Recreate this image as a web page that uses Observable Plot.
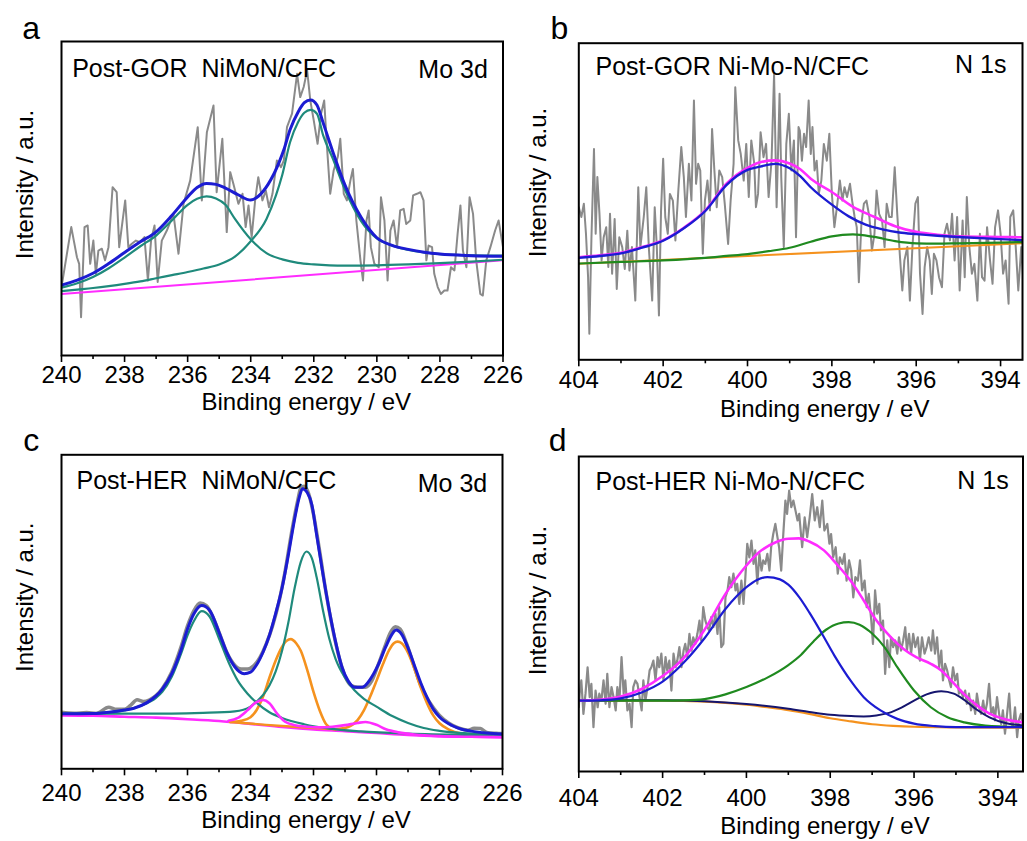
<!DOCTYPE html>
<html><head><meta charset="utf-8">
<script src="https://cdn.jsdelivr.net/npm/d3@7"></script>
<script src="https://cdn.jsdelivr.net/npm/@observablehq/plot@0.6"></script>
<style>
body{margin:0;background:#fff;}
#fig{position:relative;width:1027px;height:841px;overflow:hidden;font-family:Arial,"Liberation Sans",sans-serif;}
#fig svg{position:absolute;}
</style></head><body><div id="fig"></div>
<script>
// ---------- text ----------
const xTitle = "Binding energy / eV";
const yTitle = "Intensity / a.u.";
const moMajor = [240,238,236,234,232,230,228,226];
const moMinor = [239,237,235,233,231,229,227];
const nMajor = [404,402,400,398,396,394];
const nMinor = [403,401,399,397,395];

// ---------- panel a : Post-GOR NiMoN/CFC, Mo 3d ----------
const aRaw = [[240.00,21.8],[239.69,40.9],[239.51,31.3],[239.44,29.2],[239.38,12.2],[239.27,40.9],[239.17,41.4],[239.09,29.2],[238.99,36.6],[238.91,26.0],[238.83,33.4],[238.72,34.0],[238.62,30.3],[238.51,34.5],[238.38,53.6],[238.25,52.0],[238.17,34.5],[237.98,49.4],[237.88,34.5],[237.77,35.6],[237.64,36.6],[237.51,36.1],[237.37,37.7],[237.26,23.9],[237.16,36.6],[237.05,41.4],[236.95,23.4],[236.82,36.6],[236.66,39.8],[236.45,45.1],[236.29,32.4],[236.13,48.3],[235.92,55.7],[235.68,72.7],[235.55,49.4],[235.39,71.1],[235.18,79.6],[235.08,52.0],[234.90,69.0],[234.76,39.3],[234.65,58.4],[234.55,54.7],[234.39,48.3],[234.26,51.5],[234.16,40.9],[234.07,47.8],[233.97,37.7],[233.86,49.4],[233.76,56.8],[233.63,49.4],[233.52,52.5],[233.42,47.2],[233.31,51.5],[233.17,62.1],[233.04,60.0],[232.95,62.1],[232.85,72.7],[232.69,77.0],[232.53,89.7],[232.43,82.3],[232.32,85.5],[232.21,90.8],[232.11,81.2],[232.00,74.8],[231.88,67.4],[231.77,77.0],[231.67,81.2],[231.58,66.3],[231.48,51.5],[231.37,58.9],[231.24,63.2],[231.16,69.0],[231.05,51.5],[230.95,49.4],[230.84,55.7],[230.76,59.4],[230.65,43.0],[230.52,30.3],[230.44,23.9],[230.33,43.0],[230.26,46.2],[230.19,34.5],[230.08,29.2],[229.94,28.1],[229.87,50.4],[229.76,43.0],[229.66,23.9],[229.57,39.8],[229.47,43.0],[229.36,34.5],[229.26,46.2],[229.15,46.7],[229.07,41.9],[228.94,43.0],[228.85,51.0],[228.73,51.5],[228.62,52.0],[228.52,49.4],[228.43,30.3],[228.36,35.0],[228.25,34.5],[228.18,26.0],[228.07,21.8],[227.97,19.6],[227.86,20.7],[227.76,20.7],[227.65,28.1],[227.54,27.1],[227.44,38.7],[227.35,47.8],[227.27,33.4],[227.16,28.1],[227.06,50.4],[226.95,45.1],[226.85,30.3],[226.72,19.6],[226.64,19.1],[226.53,30.3],[226.40,34.5],[226.25,39.8],[226.14,43.0],[226.00,34.5]];
const aBase = [[240,19.6],[226,30.3]];
const aTeal1 = [[240,21.6],[239.5,23.0],[239,25.0],[238.5,27.8],[238,31.2],[237.5,34.8],[237,38.2],[236.5,43.0],[236,48.0],[235.7,49.9],[235.4,50.7],[235.1,50.0],[234.8,48.0],[234.5,43.5],[234,37.0],[233.5,32.6],[233,30.6],[232.5,29.5],[232,29.0],[231.5,28.7],[231,28.6],[230,28.7],[229,29.0],[228,29.4],[227,29.9],[226,30.5]];
const aTeal2 = [[240,20.5],[239.5,21.0],[239,21.5],[238.5,22.1],[238,22.8],[237.5,23.6],[237,24.6],[236.5,25.6],[236,26.6],[235.5,27.7],[235,29.0],[234.5,31.5],[234,36.4],[233.5,43.5],[233.2,51.0],[233,57.5],[232.75,68.0],[232.5,74.3],[232.3,77.3],[232.1,78.2],[231.9,77.0],[231.7,70.0],[231.4,62.8],[231,52.5],[230.5,42.8],[230,37.3],[229.5,35.0],[229,33.6],[228.5,32.8],[228,32.3],[227,31.9],[226,31.8]];
const aEnv = [[240,22.4],[239.5,24.0],[239,26.2],[238.5,29.3],[238,32.8],[237.5,36.2],[237,39.4],[236.5,44.6],[236,50.5],[235.7,53.5],[235.4,54.8],[235.1,54.5],[234.8,53.3],[234.4,51.2],[234.0,49.5],[233.75,50.8],[233.45,54.5],[233.1,61.5],[232.95,65.5],[232.75,72.0],[232.5,77.5],[232.3,80.5],[232.1,81.4],[231.9,79.8],[231.7,74.0],[231.4,65.0],[231,54.0],[230.5,44.0],[230,37.5],[229.5,35.0],[229,33.8],[228.5,32.9],[228,32.3],[227,31.8],[226,31.6]];

// ---------- panel b : Post-GOR Ni-Mo-N/CFC, N 1s ----------
const bRaw = [[404.00,48.2],[403.94,45.1],[403.88,49.3],[403.83,39.8],[403.78,26.1],[403.75,8.2],[403.70,38.7],[403.64,66.6],[403.60,39.8],[403.56,57.7],[403.51,46.1],[403.46,31.4],[403.41,38.7],[403.35,41.9],[403.30,29.3],[403.26,46.1],[403.21,27.2],[403.15,44.5],[403.10,22.4],[403.04,38.7],[402.97,35.6],[402.91,28.7],[402.85,40.8],[402.80,28.2],[402.74,35.6],[402.66,18.7],[402.59,54.5],[402.54,35.6],[402.46,45.1],[402.40,54.5],[402.34,35.6],[402.26,18.7],[402.20,48.2],[402.15,35.6],[402.10,14.0],[402.05,47.2],[402.00,63.5],[401.95,45.1],[401.89,39.8],[401.84,52.4],[401.77,50.3],[401.71,37.7],[401.64,53.5],[401.57,67.2],[401.51,57.7],[401.46,45.1],[401.39,61.9],[401.33,50.3],[401.27,81.9],[401.22,55.6],[401.17,61.9],[401.12,59.8],[401.06,33.5],[401.01,50.3],[400.95,56.6],[400.89,47.2],[400.84,72.9],[400.79,60.8],[400.73,48.2],[400.67,59.8],[400.60,57.7],[400.54,49.3],[400.46,36.6],[400.40,50.3],[400.33,61.9],[400.29,86.1],[400.22,69.3],[400.16,65.0],[400.09,56.6],[400.03,68.2],[399.97,51.4],[399.91,69.3],[399.84,61.9],[399.80,48.2],[399.75,52.4],[399.69,71.9],[399.62,64.0],[399.56,68.2],[399.50,51.4],[399.43,62.9],[399.37,90.3],[399.31,48.2],[399.24,84.0],[399.20,57.7],[399.14,35.6],[399.08,68.2],[399.02,77.7],[398.96,59.8],[398.90,69.3],[398.85,38.7],[398.79,73.5],[398.76,72.4],[398.71,62.9],[398.66,71.4],[398.61,67.2],[398.55,81.9],[398.50,65.0],[398.46,73.5],[398.41,59.8],[398.36,62.9],[398.31,52.4],[398.25,56.6],[398.19,68.2],[398.12,62.9],[398.06,71.4],[398.00,52.4],[397.94,41.9],[397.87,49.3],[397.81,56.6],[397.75,50.3],[397.70,54.5],[397.64,51.4],[397.57,55.6],[397.52,50.3],[397.46,45.1],[397.41,41.9],[397.36,24.5],[397.30,43.0],[397.24,49.3],[397.18,50.3],[397.11,45.1],[397.05,34.5],[396.99,39.8],[396.94,53.5],[396.88,46.1],[396.81,44.0],[396.75,35.6],[396.70,49.3],[396.64,45.1],[396.58,45.1],[396.51,60.8],[396.45,46.1],[396.39,33.5],[396.33,21.9],[396.28,31.4],[396.21,35.6],[396.15,18.7],[396.09,35.6],[396.02,49.3],[395.96,51.4],[395.91,27.2],[395.85,14.5],[395.80,29.3],[395.74,35.6],[395.68,31.4],[395.63,20.8],[395.58,33.5],[395.52,31.4],[395.46,26.1],[395.39,22.9],[395.33,39.8],[395.27,43.0],[395.20,37.7],[395.15,46.1],[395.09,31.4],[395.03,45.1],[394.97,21.9],[394.90,44.0],[394.85,26.1],[394.80,51.4],[394.74,35.6],[394.68,27.2],[394.62,30.3],[394.55,18.7],[394.49,39.8],[394.44,26.1],[394.38,25.0],[394.32,41.9],[394.25,31.4],[394.19,24.0],[394.13,41.9],[394.06,47.2],[394.00,39.8],[393.94,27.2],[393.88,31.4],[393.81,17.7],[393.77,45.1],[393.70,47.2],[393.64,35.6],[393.58,21.9],[393.51,35.6],[393.45,23.0]];
const bBase = [[404,30.3],[393.48,36.8]];
const bGreen = [[404,30.4],[403,30.9],[402,31.4],[401,32.2],[400.5,32.8],[400,33.4],[399.5,34.3],[399,35.4],[398.5,37.3],[398,39.0],[397.5,39.6],[397,38.8],[396.5,37.5],[396,36.8],[395.5,36.7],[395,36.8],[394,37.0],[393.48,37.2]];
const bBlue = [[404,32.2],[403.5,32.8],[403,33.6],[402.5,35.4],[402,37.6],[401.5,41.6],[401,47.0],[400.5,55.2],[400,60.0],[399.7,61.0],[399.35,61.9],[399,60.5],[398.75,58.0],[398.5,54.5],[398,49.0],[397.6,45.3],[397.2,42.7],[396.8,41.2],[396.4,40.2],[396,39.7],[395.5,39.2],[395,38.8],[394,38.1],[393.48,37.8]];
const bEnv = [[404,32.4],[403.5,33.0],[403,33.8],[402.5,35.6],[402,37.8],[401.5,41.8],[401,47.2],[400.5,55.6],[400,60.6],[399.7,62.4],[399.35,63.0],[399,62.0],[398.75,60.2],[398.5,57.2],[398,53.0],[397.5,48.3],[397,45.2],[396.5,42.2],[396,40.4],[395.5,39.5],[395,39.0],[394,38.8],[393.48,38.7]];

// ---------- panel c : Post-HER NiMoN/CFC, Mo 3d ----------
const cRaw = [[240,18.0],[239.6,17.7],[239.2,17.9],[238.9,17.6],[238.5,19.6],[238.3,19.0],[238.0,19.0],[237.8,20.3],[237.6,22.0],[237.4,21.4],[237.2,22.0],[237,23.3],[236.8,25.6],[236.5,30.8],[236.2,39.0],[236,45.5],[235.8,50.3],[235.6,52.8],[235.4,52.0],[235.2,48.5],[235,43.5],[234.75,37.0],[234.5,33.0],[234.3,31.8],[234.1,31.8],[233.9,32.8],[233.7,35.5],[233.5,39.8],[233.3,45.5],[233.1,53.0],[232.9,63.0],[232.7,75.0],[232.5,85.5],[232.4,89.5],[232.3,90.0],[232.15,87.5],[232.0,81.0],[231.8,69.0],[231.6,56.0],[231.4,45.0],[231.2,36.0],[231.0,29.5],[230.8,26.5],[230.6,26.0],[230.35,26.0],[230.15,28.0],[229.95,33.0],[229.75,38.5],[229.55,43.5],[229.4,45.2],[229.25,44.5],[229.05,40.0],[228.85,34.0],[228.65,28.0],[228.45,23.5],[228.2,19.5],[228.0,17.0],[227.7,14.5],[227.4,13.0],[227.1,12.3],[226.9,12.9],[226.7,12.8],[226.5,11.6],[226.2,11.3],[226,11.2]];
const cBase = [[240,17.0],[239,16.9],[238,16.6],[237,16.3],[236,15.8],[235,15.2],[234,14.3],[233,13.3],[232,12.5],[231,12.0],[230,11.4],[229,10.8],[228,10.4],[227,10.2],[226,10.1]];
const cTeal1 = [[240,17.5],[239,17.7],[238.5,18.0],[238,18.6],[237.5,20.0],[237,22.6],[236.8,24.5],[236.5,29.3],[236.2,36.8],[236,42.5],[235.8,47.0],[235.55,50.2],[235.3,48.5],[235.0,41.5],[234.7,34.0],[234.4,28.0],[234.1,24.0],[233.8,21.0],[233.4,18.0],[233,16.2],[232.3,14.2],[231.5,12.8],[230.5,11.9],[229,11.2],[227,10.8],[226,10.7]];
const cTeal2 = [[240,17.5],[238,17.6],[236.5,17.6],[235.5,17.8],[234.5,18.3],[234.0,19.8],[233.8,21.5],[233.6,23.5],[233.4,26.5],[233.2,31.0],[233.0,37.5],[232.8,46.5],[232.6,57.5],[232.4,66.0],[232.22,69.2],[232.05,67.0],[231.9,61.0],[231.7,50.5],[231.5,41.5],[231.3,35.0],[231.0,29.0],[230.7,25.0],[230.4,22.3],[230.0,19.8],[229.5,16.8],[229,14.6],[228.5,13.0],[228,12.1],[227,11.2],[226,10.8]];
const cOrange1 = [[234.65,14.9],[234.3,15.3],[234.0,16.4],[233.8,18.8],[233.6,23.0],[233.4,29.0],[233.2,34.5],[233.0,38.8],[232.85,40.8],[232.72,41.3],[232.55,40.0],[232.4,37.5],[232.2,31.5],[232.0,24.5],[231.8,18.5],[231.6,14.2],[231.4,12.8],[231.3,12.6]];
const cOrangeBase = [[234.65,14.9],[233.5,14.0],[232.5,13.3],[231.3,12.6]];
const cOrange2 = [[231.3,12.6],[230.9,13.3],[230.6,15.5],[230.4,18.6],[230.2,23.0],[230.0,28.0],[229.8,33.2],[229.6,37.8],[229.45,40.0],[229.33,40.5],[229.2,40.0],[229.0,37.0],[228.8,32.0],[228.6,26.0],[228.4,21.0],[228.2,17.0],[228.0,14.5],[227.7,12.5],[227.3,11.2],[227.0,10.8],[226.5,10.5],[226,10.3]];
const cMagenta = [[234.7,15.3],[234.4,16.2],[234.1,18.6],[233.85,21.0],[233.6,21.9],[233.4,20.9],[233.15,17.5],[232.9,15.0],[232.6,13.9],[232.2,13.4],[231.8,13.2],[231.4,13.4],[231.0,13.9],[230.6,14.6],[230.35,14.9],[230.0,14.0],[229.7,12.6],[229.3,11.6],[228.8,10.9],[228,10.4],[227,10.2],[226,10.1]];
const cEnv = [[240,17.5],[239,17.6],[238.5,18.0],[238,18.7],[237.7,19.3],[237.3,21.0],[237,23.2],[236.8,25.4],[236.5,30.3],[236.2,38.0],[236,44.5],[235.8,49.3],[235.55,52.0],[235.3,50.5],[235.0,43.5],[234.75,37.0],[234.5,32.5],[234.2,30.3],[234.0,30.8],[233.8,33.2],[233.6,37.2],[233.4,42.5],[233.2,49.5],[233.0,57.5],[232.8,68.0],[232.6,79.5],[232.45,86.5],[232.35,89.2],[232.2,88.0],[232.05,84.0],[231.9,74.5],[231.7,62.0],[231.5,50.5],[231.3,40.5],[231.1,32.5],[230.9,28.0],[230.7,26.0],[230.45,26.0],[230.2,28.5],[229.95,33.0],[229.7,39.0],[229.5,43.0],[229.38,44.2],[229.2,42.8],[229.0,38.5],[228.8,33.0],[228.6,27.5],[228.4,22.8],[228.2,19.0],[228.0,16.5],[227.6,13.8],[227.3,12.6],[227,12.0],[226.5,11.4],[226,11.1]];

// ---------- panel d : Post-HER Ni-Mo-N/CFC, N 1s ----------
const dRaw = [[404.00,20.4],[403.98,24.7],[403.94,28.9],[403.89,18.3],[403.84,24.7],[403.79,33.1],[403.74,23.6],[403.70,27.8],[403.65,14.1],[403.60,25.7],[403.55,20.4],[403.51,24.7],[403.46,22.5],[403.41,28.9],[403.36,21.5],[403.32,31.0],[403.27,20.4],[403.22,26.8],[403.17,23.6],[403.12,19.4],[403.08,26.8],[403.03,22.5],[402.98,36.3],[402.93,24.7],[402.89,28.9],[402.84,19.4],[402.79,21.5],[402.74,14.1],[402.70,26.8],[402.65,28.9],[402.60,27.8],[402.55,23.6],[402.50,19.4],[402.46,28.9],[402.41,22.5],[402.36,26.8],[402.31,32.1],[402.27,33.1],[402.22,35.2],[402.17,28.9],[402.12,36.3],[402.08,33.1],[402.03,37.4],[401.98,28.9],[401.93,36.3],[401.89,32.1],[401.84,35.2],[401.79,25.7],[401.74,37.4],[401.69,33.1],[401.65,35.2],[401.60,39.5],[401.55,33.1],[401.50,38.4],[401.46,40.5],[401.41,36.3],[401.36,43.7],[401.31,38.4],[401.27,42.6],[401.22,40.5],[401.17,43.7],[401.12,47.9],[401.08,41.6],[401.03,52.2],[400.98,47.9],[400.93,45.8],[400.89,44.8],[400.84,49.0],[400.79,45.8],[400.74,50.1],[400.69,43.7],[400.65,52.2],[400.60,39.5],[400.55,40.5],[400.50,55.3],[400.45,57.5],[400.41,61.7],[400.36,58.5],[400.31,62.8],[400.26,57.5],[400.22,59.6],[400.17,53.2],[400.12,60.6],[400.07,53.2],[400.03,60.6],[399.98,72.3],[399.93,68.0],[399.88,73.3],[399.83,65.9],[399.79,70.2],[399.74,59.6],[399.69,69.1],[399.64,63.8],[399.60,67.0],[399.55,65.9],[399.50,69.1],[399.45,63.8],[399.41,71.2],[399.36,75.4],[399.31,78.6],[399.26,74.4],[399.22,71.2],[399.17,63.8],[399.12,75.4],[399.07,86.0],[399.03,81.8],[398.98,89.2],[398.93,83.9],[398.88,86.0],[398.83,82.9],[398.78,79.7],[398.74,81.8],[398.72,78.6],[398.67,71.2],[398.61,80.7],[398.55,74.4],[398.49,80.7],[398.43,88.1],[398.37,79.7],[398.31,83.9],[398.25,77.6],[398.19,86.0],[398.14,76.5],[398.07,78.6],[398.02,72.3],[397.98,75.4],[397.93,68.0],[397.87,71.2],[397.82,62.8],[397.77,68.0],[397.71,65.9],[397.66,69.1],[397.61,60.6],[397.55,67.0],[397.50,63.8],[397.45,55.3],[397.40,61.7],[397.34,60.6],[397.29,67.0],[397.24,57.5],[397.18,60.6],[397.13,52.2],[397.08,56.4],[397.02,47.9],[396.98,40.5],[396.93,57.5],[396.88,50.1],[396.83,53.2],[396.79,44.8],[396.74,47.9],[396.69,31.0],[396.64,41.6],[396.59,33.1],[396.55,42.6],[396.50,39.5],[396.45,41.6],[396.40,37.4],[396.36,42.6],[396.31,38.4],[396.26,41.6],[396.21,45.8],[396.17,38.4],[396.12,43.7],[396.07,37.4],[396.02,43.7],[395.97,39.5],[395.91,42.6],[395.86,35.2],[395.81,42.6],[395.75,37.4],[395.70,39.5],[395.65,42.6],[395.59,38.4],[395.55,44.8],[395.50,37.4],[395.45,42.6],[395.40,33.1],[395.35,38.4],[395.31,28.9],[395.26,34.2],[395.21,32.1],[395.16,28.9],[395.12,26.8],[395.07,33.1],[395.02,28.9],[394.97,31.0],[394.93,24.7],[394.88,25.7],[394.83,23.6],[394.78,25.7],[394.74,21.5],[394.69,24.7],[394.64,19.4],[394.59,22.5],[394.54,18.3],[394.50,24.7],[394.45,20.4],[394.40,18.3],[394.35,22.5],[394.31,18.3],[394.26,21.5],[394.21,27.8],[394.16,18.3],[394.11,20.4],[394.07,16.2],[394.02,23.6],[393.97,18.3],[393.92,15.1],[393.88,19.4],[393.83,12.0],[393.78,18.3],[393.73,24.7],[393.69,16.2],[393.64,14.1],[393.59,20.4],[393.54,10.9],[393.50,16.2],[393.45,18.3],[393.40,14.1]];
const dBase = [[404,22.5],[402,22.5],[401.5,22.4],[401,22.2],[400.5,21.8],[400,21.2],[399.5,20.4],[399,19.5],[398.5,18.3],[398,16.9],[397.5,15.9],[397,15.0],[396.5,14.5],[396,14.2],[395,14.0],[393.4,13.9]];
const dNavy = [[404,22.6],[402,22.6],[401,22.3],[400,21.4],[399,19.9],[398.5,18.9],[398,18.0],[397.5,17.6],[397.2,17.5],[396.9,17.8],[396.6,18.6],[396.3,20.3],[396.0,22.5],[395.7,24.5],[395.35,25.5],[395.05,24.7],[394.8,22.7],[394.5,19.6],[394.2,17.2],[393.8,15.3],[393.4,14.6]];
const dBlue = [[404,22.5],[403.5,22.6],[403,23.2],[402.5,25.1],[402,28.5],[401.5,34.5],[401,42.3],[400.5,51.6],[400,58.5],[399.75,60.8],[399.5,61.7],[399.2,61.0],[399,59.3],[398.75,55.5],[398.5,50.5],[398.2,43.8],[397.9,36.8],[397.5,28.6],[397.2,23.6],[396.8,19.4],[396.4,16.7],[396,15.2],[395.5,14.4],[395,14.1],[393.4,14.1]];
const dGreen = [[404,22.5],[402,22.5],[401.5,22.6],[401,23.0],[400.5,24.5],[400,26.8],[399.5,29.8],[399,33.8],[398.7,37.0],[398.4,41.3],[398.1,45.0],[397.8,47.0],[397.56,47.4],[397.3,46.6],[397.0,43.8],[396.7,39.4],[396.4,33.1],[396.0,25.7],[395.6,20.4],[395.2,17.2],[394.8,15.6],[394.3,14.6],[393.4,14.1]];
const dEnv = [[404,22.5],[403.5,22.8],[403,23.8],[402.5,26.2],[402,30.3],[401.5,36.0],[401,45.0],[400.5,56.4],[400,65.4],[399.7,69.6],[399.3,72.8],[399,73.9],[398.75,74.0],[398.5,73.0],[398.15,70.2],[397.85,65.9],[397.5,60.3],[397.2,54.3],[396.9,48.0],[396.55,42.6],[396.25,38.9],[395.95,36.3],[395.6,34.2],[395.35,32.1],[395.1,28.7],[394.8,24.5],[394.5,21.0],[394.2,18.4],[393.85,16.7],[393.4,15.6]];

// ---------- colours ----------
const GREY = "#8a8a8a", BLUE = "#1c1cd2", TEAL = "#1f8a7c", MAGENTA = "#ff2cff",
      ORANGE = "#f5921e", GREEN = "#1f8a1f", NAVY = "#15156e";

const panels = [
  {left:0, top:0, width:513, height:420, margin:[41,10.5,65,61], domain:[240,226], major:moMajor, minor:moMinor,
   tickPad:3, titleDy:37, yDx:-36, yDy:-14, letter:"a", letterDx:-39.3, letterDy:-2.7,
   sample:"Post-GOR\u00a0 NiMoN/CFC", sampleDx:10.7, sampleDy:35, core:"Mo 3d", coreDx:-15.2, coreDy:36.3,
   series:[[aRaw,GREY,2,"linear"],[aBase,MAGENTA,2,"linear"],[aTeal1,TEAL,2.2],[aTeal2,TEAL,2.2],[aEnv,BLUE,3]]},
  {left:513, top:0, width:514, height:420, margin:[42.7,5,60.7,65.3], domain:[404,393.48], major:nMajor, minor:nMinor,
   tickPad:4, titleDy:40, yDx:-40, yDy:-19, letter:"b", letterDx:-28.3, letterDy:-4.4,
   sample:"Post-GOR Ni-Mo-N/CFC", sampleDx:16.7, sampleDy:31.3, core:"N 1s", coreDx:-16, coreDy:30,
   series:[[bRaw,GREY,2,"linear"],[bBase,ORANGE,2,"linear"],[bGreen,GREEN,2.2],[bEnv,MAGENTA,2.6],[bBlue,BLUE,2.4]]},
  {left:0, top:420, width:513, height:421, margin:[34.3,11,72.7,61], domain:[240,226], major:moMajor, minor:moMinor,
   tickPad:8, titleDy:42, yDx:-36, yDy:-14.6, letter:"c", letterDx:-38.3, letterDy:-4.3,
   sample:"Post-HER\u00a0 NiMoN/CFC", sampleDx:15, sampleDy:34, core:"Mo 3d", coreDx:-15.3, coreDy:36.7,
   series:[[cRaw,GREY,3.5],[cBase,MAGENTA,2.6],[cOrangeBase,ORANGE,2.4],[cOrange1,ORANGE,2.6],[cOrange2,ORANGE,2.6],[cTeal1,TEAL,2.2],[cTeal2,TEAL,2.2],[cMagenta,MAGENTA,2.6],[cEnv,BLUE,3]]},
  {left:513, top:420, width:514, height:421, margin:[36,4.5,70,65.3], domain:[404,393.4], major:nMajor, minor:nMinor,
   tickPad:10, titleDy:45, yDx:-40, yDy:-13.5, letter:"d", letterDx:-30, letterDy:-6,
   sample:"Post-HER Ni-Mo-N/CFC", sampleDx:16.7, sampleDy:33.3, core:"N 1s", coreDx:-14.3, coreDy:32,
   series:[[dRaw,GREY,2.2,"linear"],[dBase,ORANGE,2.2],[dNavy,NAVY,2],[dGreen,GREEN,2.2],[dEnv,MAGENTA,2.6],[dBlue,BLUE,2.2]]}
];

const fig = document.getElementById("fig");
for (const p of panels) {
  const marks = [];
  for (const [data, color, w, curve] of p.series) {
    marks.push(Plot.line(data, {x: d => d[0], y: d => d[1], stroke: color, strokeWidth: w,
      curve: curve || "monotone-x", strokeLinejoin: "round", clip: true}));
  }
  marks.push(Plot.frame({stroke: "black", strokeWidth: 2}));
  marks.push(Plot.axisX(p.major, {anchor: "bottom", tickSize: 7, tickPadding: p.tickPad, strokeWidth: 1.6, fontSize: 24, label: null}));
  marks.push(Plot.axisX(p.minor, {anchor: "bottom", tickSize: 4, strokeWidth: 1.6, tickFormat: () => "", label: null}));
  marks.push(Plot.text([xTitle], {text: d => d, frameAnchor: "bottom", dx: 24, dy: p.titleDy, lineAnchor: "top", fontSize: 24}));
  marks.push(Plot.text([yTitle], {text: d => d, frameAnchor: "left", rotate: -90, dx: p.yDx, dy: p.yDy, fontSize: 24, textAnchor: "middle", lineAnchor: "middle"}));
  marks.push(Plot.text([p.letter], {text: d => d, frameAnchor: "top-left", dx: p.letterDx, dy: p.letterDy, fontSize: 32, textAnchor: "start", lineAnchor: "bottom"}));
  marks.push(Plot.text([p.sample], {text: d => d, frameAnchor: "top-left", dx: p.sampleDx, dy: p.sampleDy, fontSize: 25, textAnchor: "start", lineAnchor: "bottom"}));
  marks.push(Plot.text([p.core], {text: d => d, frameAnchor: "top-right", dx: p.coreDx, dy: p.coreDy, fontSize: 25, textAnchor: "end", lineAnchor: "bottom"}));
  const [mt, mr, mb, ml] = p.margin;
  const svg = Plot.plot({
    width: p.width, height: p.height,
    marginTop: mt, marginRight: mr, marginBottom: mb, marginLeft: ml,
    x: {domain: p.domain},
    y: {domain: [0, 100], axis: null},
    style: {background: "transparent", color: "black", fontFamily: "Arial, 'Liberation Sans', sans-serif", fontSize: "24px", overflow: "visible"},
    marks
  });
  svg.style.left = p.left + "px";
  svg.style.top = p.top + "px";
  fig.appendChild(svg);
}
</script>
</body></html>
